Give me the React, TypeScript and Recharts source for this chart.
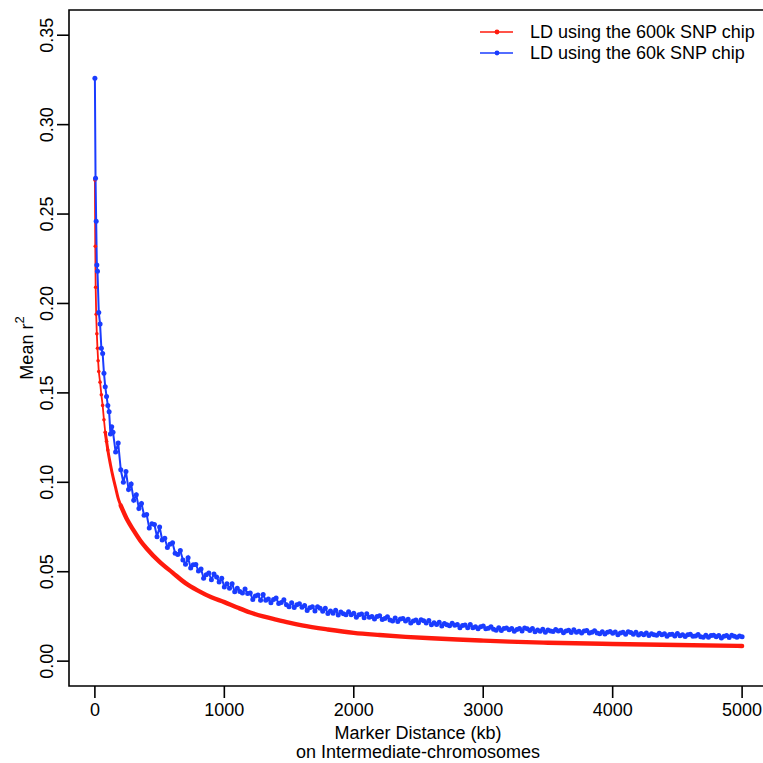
import React from 'react';
import { LineChart, Line, XAxis, YAxis, ReferenceArea } from 'recharts';

const FONT = '"Liberation Sans", Arial, Helvetica, sans-serif';
const FS = 18;
const RED = '#ff1a0d';
const BLUE = '#1a3cff';

// Axis ticks
const xTicks = [0, 1000, 2000, 3000, 4000, 5000];
const yTicks = [0, 0.05, 0.1, 0.15, 0.2, 0.25, 0.3, 0.35];
const yTickLabels = ['0.00', '0.05', '0.10', '0.15', '0.20', '0.25', '0.30', '0.35'];
const X_DOMAIN: [number, number] = [-200, 5200];
const Y_DOMAIN: [number, number] = [-0.0139, 0.3641];

// 600k SNP chip (red)
const redKb = [0, 3, 6, 10, 15, 20, 25, 30, 40, 50, 60, 70, 80, 90, 100, 120, 140, 160, 180, 200,
  250, 300, 350, 400, 500, 600, 700, 800, 900, 1000, 1100, 1200, 1300, 1400, 1500, 1600,
  1800, 2000, 2200, 2400, 2600, 2800, 3000, 3200, 3500, 4000, 4500, 5000];
const redR = [0.269, 0.232, 0.209, 0.194, 0.183, 0.175, 0.168, 0.162, 0.156, 0.149, 0.143, 0.135, 0.128, 0.123, 0.118, 0.110, 0.103, 0.097, 0.091, 0.087,
  0.079, 0.073, 0.0675, 0.063, 0.0555, 0.0495, 0.0436, 0.0393, 0.0357, 0.0330, 0.0300, 0.0272, 0.0250, 0.0232, 0.0215, 0.0200,
  0.0177, 0.0158, 0.0146, 0.0136, 0.0128, 0.0121, 0.0115, 0.0109, 0.0103, 0.0096, 0.0090, 0.0085];

// 60k SNP chip (blue): first bins
const blueStartKb = [0, 5, 10, 15, 20, 30, 40, 50, 60, 70, 80, 90, 100, 110, 120, 130];
const blueStartR = [0.326, 0.270, 0.246, 0.2215, 0.218, 0.195, 0.1885, 0.175, 0.172, 0.161, 0.1535, 0.148, 0.143, 0.1395, 0.127, 0.131];
// 60k SNP chip (blue): 20 kb bins starting at 140 kb
const blueTailStart = 140;
const blueTailStep = 20;
const blueTailR = [
  0.128, 0.117, 0.122, 0.107, 0.100, 0.106, 0.096, 0.099, 0.090, 0.093,
  0.0854, 0.0882, 0.0816, 0.0820, 0.0744, 0.0768, 0.0764, 0.0696, 0.0750, 0.0678,
  0.0687, 0.0636, 0.0654, 0.0662, 0.0603, 0.0597, 0.0618, 0.0566, 0.0542, 0.0578,
  0.0521, 0.0539, 0.0541, 0.0504, 0.0515, 0.0463, 0.0483, 0.0493, 0.0455, 0.0487,
  0.0470, 0.0443, 0.0463, 0.0415, 0.0433, 0.0408, 0.0433, 0.0388, 0.0408, 0.0390,
  0.0381, 0.0403, 0.0378, 0.0381, 0.0345, 0.0364, 0.0370, 0.0340, 0.0372, 0.0340,
  0.0348, 0.0326, 0.0345, 0.0353, 0.0322, 0.0328, 0.0343, 0.0315, 0.0304, 0.0327,
  0.0300, 0.0316, 0.0321, 0.0301, 0.0311, 0.0283, 0.0298, 0.0304, 0.0281, 0.0304,
  0.0296, 0.0279, 0.0296, 0.0267, 0.0280, 0.0268, 0.0285, 0.0258, 0.0275, 0.0265,
  0.0260, 0.0276, 0.0260, 0.0268, 0.0245, 0.0259, 0.0263, 0.0243, 0.0265, 0.0245,
  0.0250, 0.0235, 0.0249, 0.0254, 0.0233, 0.0238, 0.0248, 0.0230, 0.0224, 0.0241,
  0.0222, 0.0235, 0.0239, 0.0225, 0.0234, 0.0213, 0.0225, 0.0230, 0.0215, 0.0232,
  0.0226, 0.0213, 0.0227, 0.0204, 0.0214, 0.0205, 0.0218, 0.0197, 0.0211, 0.0203,
  0.0198, 0.0212, 0.0200, 0.0205, 0.0187, 0.0199, 0.0202, 0.0187, 0.0205, 0.0187,
  0.0192, 0.0181, 0.0192, 0.0197, 0.0181, 0.0184, 0.0193, 0.0179, 0.0173, 0.0187,
  0.0171, 0.0182, 0.0186, 0.0176, 0.0183, 0.0167, 0.0177, 0.0183, 0.0169, 0.0185,
  0.0181, 0.0171, 0.0183, 0.0165, 0.0174, 0.0167, 0.0179, 0.0162, 0.0174, 0.0168,
  0.0166, 0.0177, 0.0168, 0.0173, 0.0159, 0.0169, 0.0173, 0.0160, 0.0176, 0.0162,
  0.0167, 0.0157, 0.0168, 0.0172, 0.0158, 0.0161, 0.0170, 0.0157, 0.0153, 0.0165,
  0.0152, 0.0162, 0.0166, 0.0156, 0.0163, 0.0148, 0.0158, 0.0162, 0.0151, 0.0164,
  0.0160, 0.0151, 0.0162, 0.0146, 0.0154, 0.0148, 0.0157, 0.0143, 0.0153, 0.0148,
  0.0145, 0.0156, 0.0147, 0.0153, 0.0139, 0.0149, 0.0151, 0.0141, 0.0154, 0.0142,
  0.0147, 0.0138, 0.0148, 0.0151, 0.0139, 0.0141, 0.0149, 0.0137, 0.0134, 0.0145,
  0.0133, 0.0143, 0.0145, 0.0137, 0.0143, 0.0130, 0.0139, 0.0143, 0.0132, 0.0145,
  0.0139, 0.0134, 0.0141, 0.0137,
];

const legendLabels = ['LD using the 600k SNP chip', 'LD using the 60k SNP chip'];
const xTitle1 = 'Marker Distance (kb)';
const xTitle2 = 'on Intermediate-chromosomes';

const redData = redKb.map((kb, i) => ({ kb, r: redR[i] }));
const redNear = redData.filter((d) => d.kb <= 100);
const redMid = redData.filter((d) => d.kb >= 80 && d.kb <= 250);
const redFar = redData.filter((d) => d.kb >= 200);
const blueData = [
  ...blueStartKb.map((kb, i) => ({ kb, r: blueStartR[i] })),
  ...blueTailR.map((r, i) => ({ kb: blueTailStart + i * blueTailStep, r })),
];

const W = 780;
const H = 763;
const YW = 69;
const XH = 77;

const XTick = (props: any) => {
  const { x, y, payload } = props;
  return (
    <text x={x} y={y + 10} textAnchor="middle" dominantBaseline="central"
      fontFamily={FONT} fontSize={FS} fill="#000">
      {String(payload.value)}
    </text>
  );
};

const YTick = (props: any) => {
  const { x, y, payload } = props;
  const idx = yTicks.findIndex((t) => Math.abs(t - payload.value) < 1e-9);
  const label = idx >= 0 ? yTickLabels[idx] : String(payload.value);
  return (
    <text x={0} y={0} transform={`translate(${x - 8.5},${y}) rotate(-90)`}
      textAnchor="middle" dominantBaseline="central"
      fontFamily={FONT} fontSize={FS} fill="#000">
      {label}
    </text>
  );
};

export default function App() {
  return (
    <div style={{ position: 'absolute', left: 0, top: 0, width: 763, height: 763, overflow: 'hidden', background: '#fff' }}>
      <LineChart width={W} height={H} margin={{ top: 10, right: 12, left: 0, bottom: 0 }}>
        <XAxis dataKey="kb" type="number" domain={X_DOMAIN} allowDataOverflow ticks={xTicks} interval={0}
          height={XH} tickSize={12} axisLine={false}
          tickLine={{ stroke: '#000', strokeWidth: 1.6 }} tick={<XTick />} />
        <YAxis type="number" domain={Y_DOMAIN} allowDataOverflow ticks={yTicks} interval={0}
          width={YW} tickSize={12} axisLine={false}
          tickLine={{ stroke: '#000', strokeWidth: 1.6 }} tick={<YTick />} />
        <ReferenceArea x1={X_DOMAIN[0]} x2={X_DOMAIN[1]} y1={Y_DOMAIN[0]} y2={Y_DOMAIN[1]}
          fill="none" fillOpacity={0} stroke="#000" strokeWidth={1.6} ifOverflow="visible" />
        <Line data={redFar} dataKey="r" type="monotone" stroke={RED} strokeWidth={4.4}
          strokeLinecap="round" dot={false} isAnimationActive={false} />
        <Line data={redMid} dataKey="r" type="monotone" stroke={RED} strokeWidth={3}
          strokeLinecap="round" dot={false} isAnimationActive={false} />
        <Line data={redNear} dataKey="r" type="linear" stroke={RED} strokeWidth={1.8}
          dot={{ r: 1.8, fill: RED, stroke: 'none' }} isAnimationActive={false} />
        <Line data={blueData} dataKey="r" type="linear" stroke={BLUE} strokeWidth={2}
          dot={{ r: 2.5, fill: BLUE, stroke: 'none' }} isAnimationActive={false} />
      </LineChart>
      <svg width={763} height={763} style={{ position: 'absolute', left: 0, top: 0, pointerEvents: 'none' }}>
        <g fontFamily={FONT} fontSize={FS} fill="#000">
          <line x1={480} x2={513} y1={32} y2={32} stroke={RED} strokeWidth={1.6} />
          <circle cx={497} cy={32} r={2.4} fill={RED} />
          <text x={530} y={32} dominantBaseline="central">{legendLabels[0]}</text>
          <line x1={480} x2={513} y1={53} y2={53} stroke={BLUE} strokeWidth={1.6} />
          <circle cx={497} cy={53} r={2.4} fill={BLUE} />
          <text x={530} y={53} dominantBaseline="central">{legendLabels[1]}</text>
          <text x={418} y={733} textAnchor="middle" dominantBaseline="central">{xTitle1}</text>
          <text x={418} y={752} textAnchor="middle" dominantBaseline="central">{xTitle2}</text>
          <text x={0} y={0} transform="translate(27,348) rotate(-90)" textAnchor="middle" dominantBaseline="central">
            Mean r<tspan fontSize={13} dy={-8}>2</tspan>
          </text>
        </g>
      </svg>
    </div>
  );
}
